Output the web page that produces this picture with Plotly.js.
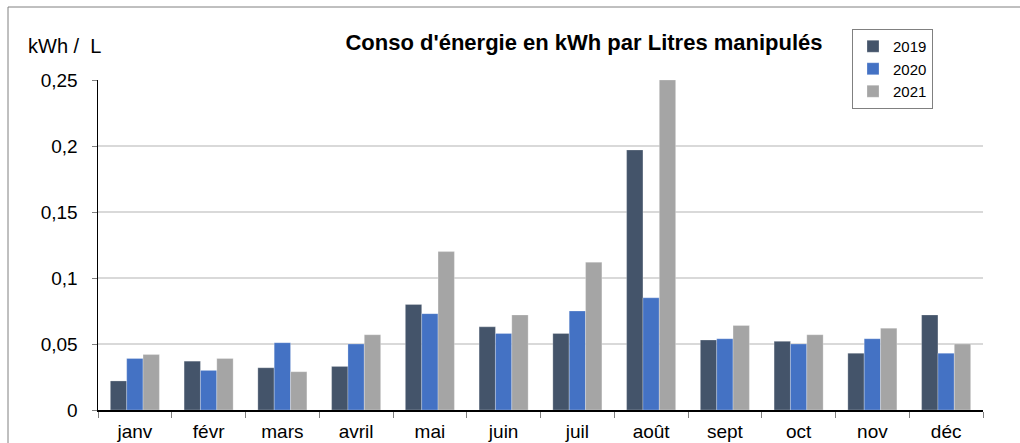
<!DOCTYPE html>
<html>
<head>
<meta charset="utf-8">
<script src="https://cdn.plot.ly/plotly-3.0.1.min.js"></script>
<style>html,body{margin:0;padding:0;background:#fff;}#chart{width:1020px;height:443px;}</style>
</head>
<body>
<div id="chart"></div>
<script>
const months = ["janv", "févr", "mars", "avril", "mai", "juin", "juil", "août", "sept", "oct", "nov", "déc"];
const years = ["2019", "2020", "2021"];
const v2019 = [0.022, 0.037, 0.032, 0.033, 0.080, 0.063, 0.058, 0.197, 0.053, 0.052, 0.043, 0.072];
const v2020 = [0.039, 0.030, 0.051, 0.050, 0.073, 0.058, 0.075, 0.085, 0.054, 0.050, 0.054, 0.043];
const v2021 = [0.042, 0.039, 0.029, 0.057, 0.120, 0.072, 0.112, 0.250, 0.064, 0.057, 0.062, 0.050];
const yTicks = [0, 0.05, 0.1, 0.15, 0.2, 0.25];
const yTickText = ["0", "0,05", "0,1", "0,15", "0,2", "0,25"];
const colors = ["#44546A", "#4472C4", "#A5A5A5"];
const series = [v2019, v2020, v2021];

const FONT = "Liberation Sans, Arial, sans-serif";

const traces = series.map((vals, i) => ({
  type: "bar",
  name: years[i],
  x: months,
  y: vals,
  marker: {color: colors[i], line: {color: "rgba(255,255,255,0.5)", width: 0.5}},
  hoverinfo: "x+y+name"
}));

const layout = {
  width: 1020,
  height: 443,
  margin: {l: 98, r: 37, t: 80, b: 33, pad: 0, autoexpand: false},
  paper_bgcolor: "#ffffff",
  plot_bgcolor: "#ffffff",
  font: {family: FONT, size: 18, color: "#000"},
  barmode: "group",
  bargap: 0.335,
  bargroupgap: 0,
  showlegend: true,
  title: {
    text: "<b>Conso d'énergie en kWh par Litres manipulés</b>",
    font: {family: FONT, size: 22, color: "#000"},
    x: 584 / 1020, xanchor: "center", xref: "container",
    y: 1 - 42 / 443, yanchor: "middle", yref: "container"
  },
  xaxis: {
    type: "category",
    showline: true, linecolor: "#000", linewidth: 1.5,
    ticks: "outside", tickson: "boundaries", ticklen: 6, tickcolor: "#808080", tickwidth: 1,
    tickfont: {family: FONT, size: 19, color: "#000"},
    ticklabelstandoff: 4,
    showgrid: false, zeroline: false, fixedrange: true
  },
  yaxis: {
    range: [0, 0.25],
    tickvals: yTicks, ticktext: yTickText,
    showline: true, linecolor: "#000", linewidth: 1.5,
    ticks: "outside", ticklen: 5, tickcolor: "#808080", tickwidth: 1,
    tickfont: {family: FONT, size: 19, color: "#000"},
    ticklabelstandoff: 10,
    showgrid: true, gridcolor: "#d9d9d9", gridwidth: 1.5,
    zeroline: false, fixedrange: true
  },
  legend: {
    x: 852 / 1020, xref: "container", xanchor: "left",
    y: 1 - 29 / 443, yref: "container", yanchor: "top",
    bordercolor: "#808080", borderwidth: 1, bgcolor: "#fff",
    font: {family: FONT, size: 15, color: "#000"},
    itemwidth: 30, tracegroupgap: 0,
    traceorder: "normal"
  },
  annotations: [{
    text: "kWh /  L", xref: "paper", yref: "paper",
    x: (26 - 98) / 885, xanchor: "left",
    y: (410 - 46) / 330, yanchor: "middle",
    showarrow: false, font: {family: FONT, size: 20, color: "#000"}
  }],
  shapes: [{
    type: "rect", xref: "paper", yref: "paper",
    x0: (8 - 98) / 885, x1: (1030 - 98) / 885,
    y0: (410 - 460) / 330, y1: (410 - 7) / 330,
    line: {color: "#808080", width: 1}, fillcolor: "rgba(0,0,0,0)", layer: "below"
  }]
};

Plotly.newPlot("chart", traces, layout, {displayModeBar: false, staticPlot: true});
</script>
</body>
</html>
